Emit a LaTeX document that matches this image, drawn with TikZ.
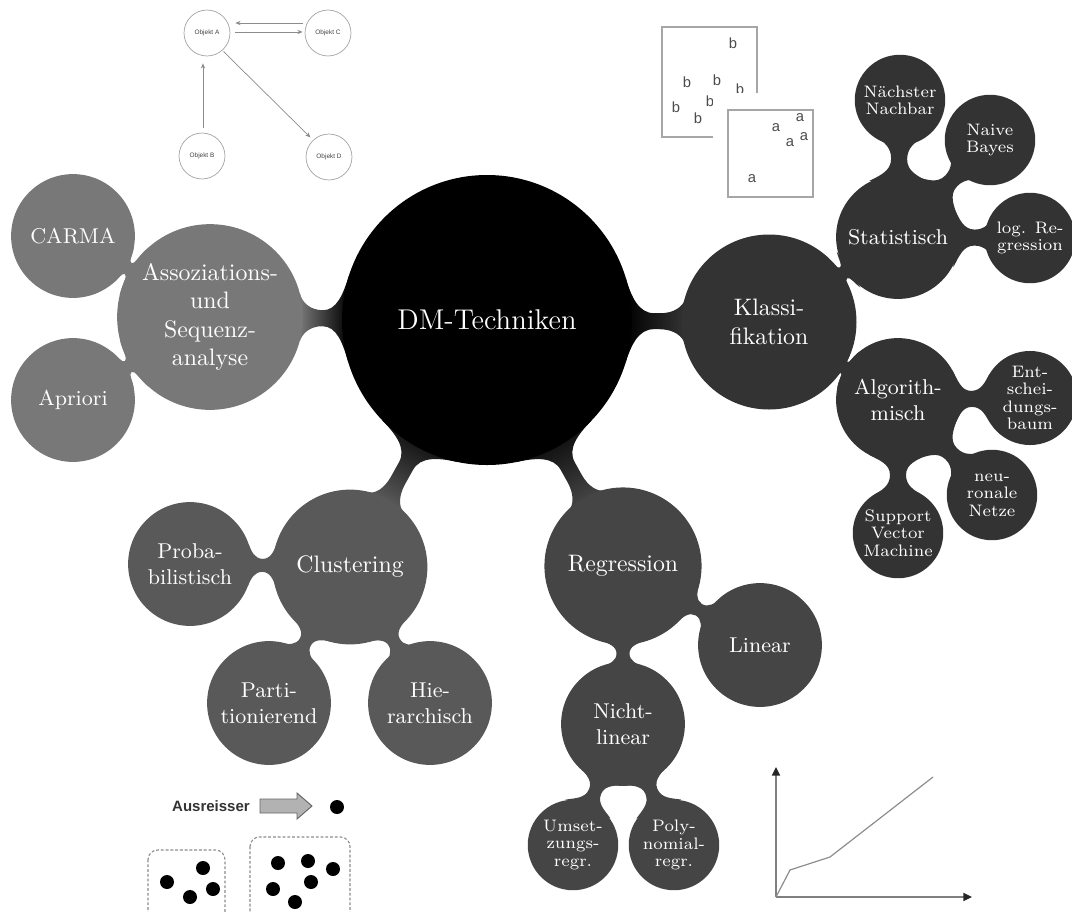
\documentclass[tikz,border=0pt]{standalone}
\usepackage{fontspec}
\newfontfamily\arialfont{Liberation Sans}
\usetikzlibrary{arrows.meta,calc,backgrounds}
\definecolor{assoccol}{gray}{0.47}
\definecolor{clustcol}{gray}{0.35}
\definecolor{regrcol}{gray}{0.27}
\definecolor{klasscol}{gray}{0.2}
% Connection bar between two round concepts (sizes in px of the 0.42pt grid):
% \mmlink{from}{to}{r from}{r to}{half width}{angle at from}{angle at to}{max reach}{paint}
\newcommand\mmlink[9]{%
  \path let \p1=($(#2)-(#1)$),
            \n1={min(max(veclen(\x1,\y1)/0.42-#3-#4,0)/2,#8)}
        in
    coordinate (pau) at ($(#1)!{#3*0.42pt}!#6:(#2)$)
    coordinate (pal) at ($(#1)!{#3*0.42pt}!-#6:(#2)$)
    coordinate (pbu) at ($(#2)!{#4*0.42pt}!-#7:(#1)$)
    coordinate (pbl) at ($(#2)!{#4*0.42pt}!#7:(#1)$)
    coordinate (qau) at ($(#1)!{(#3+\n1)*0.42pt}!(#2)!{#5*0.42pt}!90:(#2)$)
    coordinate (qal) at ($(#1)!{(#3+\n1)*0.42pt}!(#2)!{#5*0.42pt}!-90:(#2)$)
    coordinate (qbu) at ($(#2)!{(#4+\n1)*0.42pt}!(#1)!{#5*0.42pt}!-90:(#1)$)
    coordinate (qbl) at ($(#2)!{(#4+\n1)*0.42pt}!(#1)!{#5*0.42pt}!90:(#1)$)
    coordinate (cau) at ($(pau)+(#1)!{0.55*(#3*sin(#6)-#5)*0.42pt}!{#6-90}:(#2)-(#1)$)
    coordinate (cal) at ($(pal)+(#1)!{0.55*(#3*sin(#6)-#5)*0.42pt}!{90-#6}:(#2)-(#1)$)
    coordinate (cbu) at ($(pbu)+(#1)!{0.55*(#4*sin(#7)-#5)*0.42pt}!{-90-#7}:(#2)-(#1)$)
    coordinate (cbl) at ($(pbl)+(#1)!{0.55*(#4*sin(#7)-#5)*0.42pt}!{90+#7}:(#2)-(#1)$)
    coordinate (dau) at ($(qau)+(#1)!{0.55*(#3+\n1-#3*cos(#6))*0.42pt}!180:(#2)-(#1)$)
    coordinate (dal) at ($(qal)+(#1)!{0.55*(#3+\n1-#3*cos(#6))*0.42pt}!180:(#2)-(#1)$)
    coordinate (dbu) at ($(qbu)+(#1)!{0.55*(#4+\n1-#4*cos(#7))*0.42pt}!(#2)-(#1)$)
    coordinate (dbl) at ($(qbl)+(#1)!{0.55*(#4+\n1-#4*cos(#7))*0.42pt}!(#2)-(#1)$);
  \path[#9] (pau) .. controls (cau) and (dau) .. (qau) -- (qbu)
    .. controls (dbu) and (cbu) .. (pbu) -- (pbl)
    .. controls (cbl) and (dbl) .. (qbl) -- (qal)
    .. controls (dal) and (cal) .. (pal) -- cycle;
}
\begin{document}
\begin{tikzpicture}[x=0.42pt,y=-0.42pt,
  bubble/.style={circle,fill=#1,text=white,align=center,inner sep=0pt},
  rootbubble/.style={bubble=black,minimum size=121.8pt,font=\large},
  firstbubble/.style={bubble=#1,font=\normalsize},
  secondbubble/.style={bubble=#1,minimum size=52pt,font=\small},
  thirdbubble/.style={bubble=#1,minimum size=38pt,font=\fontsize{7}{7.3}\selectfont},
  objnode/.style={circle,draw=black!35,line width=0.3pt,minimum size=19.3pt,inner sep=0pt,
    font=\arialfont\fontsize{2.7}{3}\selectfont,text=black!75},
  objarrow/.style={draw=black!45,line width=0.3pt,-{Stealth[length=2.2pt,width=1.8pt]}},
  letter/.style={font=\arialfont\fontsize{6.2}{7}\selectfont,text=black!70,inner sep=0pt},
  dot/.style={fill=black},
  clusterbox/.style={draw=black!45,dashed,dash pattern=on 1.2pt off 0.8pt,line width=0.45pt,rounded corners=4pt},
  axis/.style={draw=black!50,line width=0.5pt,-{Triangle[length=3.6pt,width=3.4pt,color=black!85]}},
  curve/.style={draw=black!45,line width=0.5pt}
]
\useasboundingbox (0,0) rectangle (1072,912);
\clip (0,0) rectangle (1072,912);

% ---------- mind map: concepts ----------
\node[rootbubble] (root) at (487,320) {DM-Techniken};

\node[firstbubble=assoccol,minimum size=78pt] (assoc) at (210,317) {Assoziations-\\und\\Sequenz-\\analyse};
\node[firstbubble=klasscol,minimum size=73.5pt] (klass) at (769,322) {Klassi-\\fikation};
\node[firstbubble=clustcol,minimum size=65pt] (clust) at (350,567) {Clustering};
\node[firstbubble=regrcol,minimum size=66pt] (regr) at (623,566) {Regression};

\node[secondbubble=assoccol] (carma) at (73,236) {CARMA};
\node[secondbubble=assoccol] (apriori) at (73,400) {Apriori};
\node[secondbubble=klasscol] (stat) at (898,237) {Statistisch};
\node[secondbubble=klasscol] (algo) at (898,400) {Algorith-\\misch};
\node[secondbubble=clustcol] (proba) at (190,564) {Proba-\\bilistisch};
\node[secondbubble=clustcol] (parti) at (269,703) {Parti-\\tionierend};
\node[secondbubble=clustcol] (hier) at (430,703) {Hie-\\rarchisch};
\node[secondbubble=regrcol] (linear) at (760,645) {Linear};
\node[secondbubble=regrcol] (nicht) at (623,724) {Nicht-\\linear};

\node[thirdbubble=klasscol] (naechst) at (900,100) {Nächster\\Nachbar};
\node[thirdbubble=klasscol] (naive) at (990,140) {Naive\\Bayes};
\node[thirdbubble=klasscol] (logreg) at (1030,238) {log. Re-\\gression};
\node[thirdbubble=klasscol,minimum size=39.5pt] (entsch) at (1030,398) {Ent-\\schei-\\dungs-\\baum};
\node[thirdbubble=klasscol] (neuro) at (992,495) {neu-\\ronale\\Netze};
\node[thirdbubble=klasscol] (svm) at (898,533) {Support\\Vector\\Machine};
\node[thirdbubble=regrcol] (umsetz) at (573,845) {Umset-\\zungs-\\regr.};
\node[thirdbubble=regrcol] (poly) at (674,845) {Poly-\\nomial-\\regr.};

% ---------- mind map: connection bars (behind the concepts) ----------
\begin{pgfonlayer}{background}
\mmlink{root}{assoc}{145}{93}{8}{17}{15}{22}{left color=black,right color=assoccol,shading angle=269.4}
\mmlink{root}{klass}{145}{87}{8}{17}{15}{22}{left color=black,right color=klasscol,shading angle=89.6}
\mmlink{root}{clust}{145}{77}{8}{17}{15}{22}{left color=black,right color=clustcol,shading angle=-29}
\mmlink{root}{regr}{145}{78}{8}{17}{15}{22}{left color=black,right color=regrcol,shading angle=28.9}

\mmlink{assoc}{carma}{93}{62}{6.5}{17}{20}{15}{fill=assoccol}
\mmlink{assoc}{apriori}{93}{62}{6.5}{17}{20}{15}{fill=assoccol}
\mmlink{klass}{stat}{87}{63}{6.5}{17}{20}{15}{fill=klasscol}
\mmlink{klass}{algo}{87}{62}{6.5}{17}{20}{15}{fill=klasscol}
\mmlink{clust}{proba}{77}{62}{6.5}{17}{20}{15}{fill=clustcol}
\mmlink{clust}{parti}{77}{61}{6.5}{17}{20}{15}{fill=clustcol}
\mmlink{clust}{hier}{77}{60}{6.5}{17}{20}{15}{fill=clustcol}
\mmlink{regr}{linear}{78}{61}{6.5}{17}{20}{15}{fill=regrcol}
\mmlink{regr}{nicht}{78}{61}{6.5}{17}{20}{15}{fill=regrcol}

\mmlink{stat}{naechst}{63}{44}{8}{28}{32}{15}{fill=klasscol}
\mmlink{stat}{naive}{63}{42}{8}{28}{32}{15}{fill=klasscol}
\mmlink{stat}{logreg}{63}{42}{8}{28}{32}{15}{fill=klasscol}
\mmlink{algo}{entsch}{62}{47}{8}{28}{32}{15}{fill=klasscol}
\mmlink{algo}{neuro}{62}{44}{8}{28}{32}{15}{fill=klasscol}
\mmlink{algo}{svm}{62}{45}{8}{28}{32}{15}{fill=klasscol}
\mmlink{nicht}{umsetz}{61}{46}{6.5}{28}{32}{15}{fill=regrcol}
\mmlink{nicht}{poly}{61}{46}{6.5}{28}{32}{15}{fill=regrcol}
\end{pgfonlayer}

% ---------- object graph ----------
\node[objnode] (oa) at (207,33) {Objekt A};
\node[objnode] (oc) at (328,33) {Objekt C};
\node[objnode] (ob) at (202,156) {Objekt B};
\node[objnode] (od) at (329,157) {Objekt D};
\draw[objarrow] ($(oc.west)+(-2,-10)$) -- ($(oa.east)+(5,-10)$);
\draw[objarrow] ($(oa.east)+(5,-1)$) -- ($(oc.west)+(-2,-1)$);
\draw[objarrow] ($(ob.north)+(1,-5)$) -- ($(oa.south)+(-4,7)$);
\draw[objarrow] ($(oa.south east)+(0,2)$) -- ($(od.north west)+(-2,-3)$);

% ---------- scatter boxes ----------
\draw[draw=black!35,line width=0.85pt] (662,27) rectangle (757,137);
\node[letter] (b1) at (733,43) {b};
\node[letter] (b2) at (687,82) {b};
\node[letter] (b3) at (717,80) {b};
\node[letter] (b4) at (740,89) {b};
\node[letter] (b5) at (710,101) {b};
\node[letter] (b6) at (676,107) {b};
\node[letter] (b7) at (698,118) {b};
\fill[white] (713,93) rectangle (830,215);
\draw[draw=black!35,line width=0.85pt,fill=white] (728,110) rectangle (813,197);
\node[letter] (a1) at (800,118) {a};
\node[letter] (a2) at (776,128) {a};
\node[letter] (a3) at (804,137) {a};
\node[letter] (a4) at (790,143) {a};
\node[letter] (a5) at (752,179) {a};

% ---------- outlier sketch ----------
\node[font=\arialfont\bfseries\fontsize{6.3}{7}\selectfont,text=black!80,inner sep=0pt] (aus) at (211,806) {Ausreisser};
\filldraw[fill=black!30,draw=black!60,line width=0.4pt]
  (260,799) -- (297,799) -- (297,793) -- (312,806) -- (297,819) -- (297,813) -- (260,813) -- cycle;
\fill[dot] (337,807) circle[radius=7];
\draw[clusterbox] (148,850) rectangle (225,930);
\draw[clusterbox] (250,837) rectangle (350,930);
\foreach \p in {(203,868),(167,882),(213,889),(190,897),
                (278,863),(308,861),(333,869),(311,882),(273,889),(295,902)}
  \fill[dot] \p circle[radius=7];

% ---------- regression chart ----------
\coordinate (origin) at (776,897);
\coordinate (ytip) at (776,767);
\coordinate (xtip) at (972,897);
\coordinate (k1) at (790,870);
\coordinate (k2) at (830,857);
\coordinate (k3) at (933,777);
\draw[axis] (origin) -- (ytip);
\draw[axis] (origin) -- (xtip);
\draw[curve] (origin) -- (k1) -- (k2) -- (k3);
\end{tikzpicture}
\end{document}
